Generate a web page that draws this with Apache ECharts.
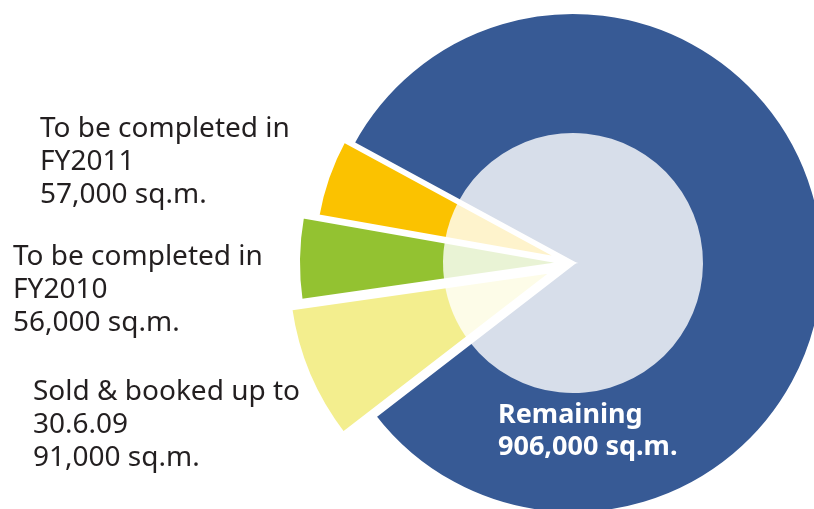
<!DOCTYPE html>
<html><head><meta charset="utf-8">
<script src="https://cdn.jsdelivr.net/npm/echarts@6/dist/echarts.min.js"></script>
<style>html,body{margin:0;padding:0;background:#fff}#chart{width:814px;height:509px}</style>
</head><body><div id="chart"></div>
<script>
// ---- data ----
const categories = ['Remaining', 'Sold & booked up to 30.6.09', 'To be completed in FY2010', 'To be completed in FY2011'];
const areaSqm = [906000, 91000, 56000, 57000];
const labelTexts = [
  ['Remaining', '906,000 sq.m.'],
  ['Sold & booked up to', '30.6.09', '91,000 sq.m.'],
  ['To be completed in', 'FY2010', '56,000 sq.m.'],
  ['To be completed in', 'FY2011', '57,000 sq.m.']
];

// ---- styles / layout ----
const colors = ['#375a95', '#f3ee8e', '#93c231', '#fbc200'];
const explode = [0, 20, 7, 10];
const outerR = [251, 267, 268, 250];
const labelPos = [[498, 399], [33, 376], [13, 241], [40, 113]];
const C = [573, 263];
const START = 151.5;
const FONT = '"Noto Sans", "Open Sans", sans-serif';

const chart = echarts.init(document.getElementById('chart'));
const series = [];
categories.forEach((cat, i) => {
  series.push({
    type: 'pie',
    z: 2,
    center: C,
    radius: [0, outerR[i]],
    startAngle: START,
    clockwise: true,
    silent: true,
    animation: false,
    selectedMode: 'single',
    selectedOffset: explode[i],
    emphasis: { disabled: true },
    label: { show: false },
    labelLine: { show: false },
    data: areaSqm.map((v, j) => ({
      name: categories[j],
      value: v,
      selected: i === j && explode[i] > 0,
      itemStyle: i === j
        ? { color: colors[j], borderColor: '#ffffff', borderWidth: 4, borderJoin: 'miter' }
        : { color: 'rgba(0,0,0,0)', borderWidth: 0 }
    }))
  });
});
// translucent white wash over the inner part of the pie
series.push({
  type: 'pie',
  z: 3,
  center: C,
  radius: [0, 130],
  startAngle: START,
  silent: true,
  animation: false,
  label: { show: false },
  labelLine: { show: false },
  emphasis: { disabled: true },
  data: areaSqm.map((v, j) => ({
    name: categories[j], value: v,
    itemStyle: { color: 'rgba(255,255,255,0.8)', borderWidth: 0 }
  }))
});

const graphics = labelTexts.map((lines, j) => ({
  type: 'text',
  z: 10,
  left: labelPos[j][0],
  top: labelPos[j][1],
  silent: true,
  style: {
    text: lines.join('\n'),
    fontFamily: FONT,
    fontSize: j === 0 ? 27 : 28,
    fontWeight: j === 0 ? 'bold' : 'normal',
    lineHeight: j === 0 ? 32 : 33,
    fill: j === 0 ? '#ffffff' : '#231f20'
  }
}));

chart.setOption({ backgroundColor: '#ffffff', animation: false, series: series, graphic: graphics });
</script>
</body></html>
